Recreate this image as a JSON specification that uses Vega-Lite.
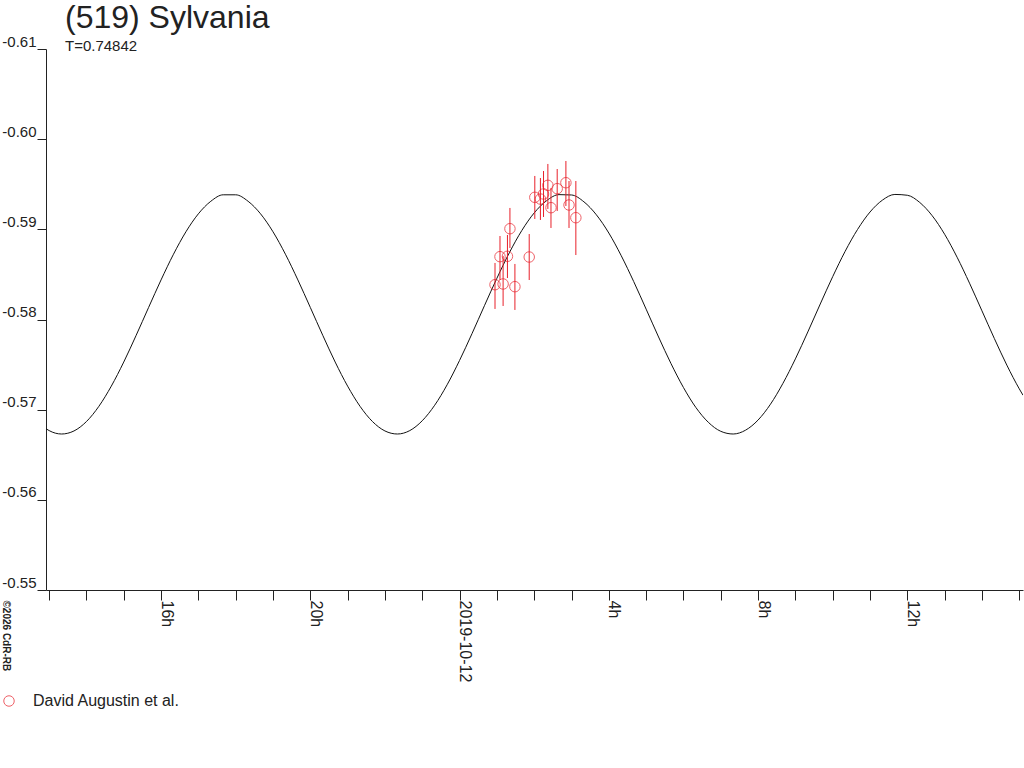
{
  "$schema": "https://vega.github.io/schema/vega-lite/v6.json",
  "width": 977,
  "height": 541,
  "padding": {"top": 2, "left": 0, "right": 0, "bottom": 0},
  "background": "white",
  "title": {
    "text": "(519) Sylvania",
    "subtitle": "T=0.74842",
    "anchor": "start",
    "dx": 65,
    "offset": -21,
    "font": "Liberation Sans",
    "fontSize": 32,
    "fontWeight": "normal",
    "color": "#222",
    "subtitleFont": "Liberation Sans",
    "subtitleFontSize": 15,
    "subtitleColor": "#222",
    "subtitlePadding": 4
  },
  "config": {
    "view": {"stroke": null},
    "axis": {
      "labelFont": "Liberation Sans",
      "labelColor": "#222",
      "domainColor": "#222",
      "tickColor": "#222",
      "grid": false
    }
  },
  "datasets": {
    "curve": [
      {"t": "2019-10-11T12:55:00Z", "m": -0.56789},
      {"t": "2019-10-11T13:00:00Z", "m": -0.56768},
      {"t": "2019-10-11T13:20:00Z", "m": -0.56730},
      {"t": "2019-10-11T13:40:00Z", "m": -0.56764},
      {"t": "2019-10-11T14:00:00Z", "m": -0.56868},
      {"t": "2019-10-11T14:20:00Z", "m": -0.57037},
      {"t": "2019-10-11T14:40:00Z", "m": -0.57261},
      {"t": "2019-10-11T15:00:00Z", "m": -0.57528},
      {"t": "2019-10-11T15:20:00Z", "m": -0.57825},
      {"t": "2019-10-11T15:40:00Z", "m": -0.58134},
      {"t": "2019-10-11T16:00:00Z", "m": -0.58439},
      {"t": "2019-10-11T16:20:00Z", "m": -0.58724},
      {"t": "2019-10-11T16:40:00Z", "m": -0.58973},
      {"t": "2019-10-11T17:00:00Z", "m": -0.59172},
      {"t": "2019-10-11T17:20:00Z", "m": -0.59311},
      {"t": "2019-10-11T17:40:00Z", "m": -0.59383},
      {"t": "2019-10-11T18:00:00Z", "m": -0.59383},
      {"t": "2019-10-11T18:20:00Z", "m": -0.59311},
      {"t": "2019-10-11T18:40:00Z", "m": -0.59172},
      {"t": "2019-10-11T19:00:00Z", "m": -0.58973},
      {"t": "2019-10-11T19:20:00Z", "m": -0.58724},
      {"t": "2019-10-11T19:40:00Z", "m": -0.58439},
      {"t": "2019-10-11T20:00:00Z", "m": -0.58134},
      {"t": "2019-10-11T20:20:00Z", "m": -0.57825},
      {"t": "2019-10-11T20:40:00Z", "m": -0.57528},
      {"t": "2019-10-11T21:00:00Z", "m": -0.57261},
      {"t": "2019-10-11T21:20:00Z", "m": -0.57037},
      {"t": "2019-10-11T21:40:00Z", "m": -0.56868},
      {"t": "2019-10-11T22:00:00Z", "m": -0.56764},
      {"t": "2019-10-11T22:20:00Z", "m": -0.56730},
      {"t": "2019-10-11T22:40:00Z", "m": -0.56768},
      {"t": "2019-10-11T23:00:00Z", "m": -0.56877},
      {"t": "2019-10-11T23:20:00Z", "m": -0.57049},
      {"t": "2019-10-11T23:40:00Z", "m": -0.57276},
      {"t": "2019-10-12T00:00:00Z", "m": -0.57546},
      {"t": "2019-10-12T00:20:00Z", "m": -0.57843},
      {"t": "2019-10-12T00:40:00Z", "m": -0.58153},
      {"t": "2019-10-12T01:00:00Z", "m": -0.58457},
      {"t": "2019-10-12T01:20:00Z", "m": -0.58740},
      {"t": "2019-10-12T01:40:00Z", "m": -0.58986},
      {"t": "2019-10-12T02:00:00Z", "m": -0.59182},
      {"t": "2019-10-12T02:20:00Z", "m": -0.59318},
      {"t": "2019-10-12T02:40:00Z", "m": -0.59385},
      {"t": "2019-10-12T03:00:00Z", "m": -0.59381},
      {"t": "2019-10-12T03:20:00Z", "m": -0.59305},
      {"t": "2019-10-12T03:40:00Z", "m": -0.59161},
      {"t": "2019-10-12T04:00:00Z", "m": -0.58959},
      {"t": "2019-10-12T04:20:00Z", "m": -0.58707},
      {"t": "2019-10-12T04:40:00Z", "m": -0.58421},
      {"t": "2019-10-12T05:00:00Z", "m": -0.58115},
      {"t": "2019-10-12T05:20:00Z", "m": -0.57806},
      {"t": "2019-10-12T05:40:00Z", "m": -0.57511},
      {"t": "2019-10-12T06:00:00Z", "m": -0.57246},
      {"t": "2019-10-12T06:20:00Z", "m": -0.57024},
      {"t": "2019-10-12T06:40:00Z", "m": -0.56860},
      {"t": "2019-10-12T07:00:00Z", "m": -0.56760},
      {"t": "2019-10-12T07:20:00Z", "m": -0.56730},
      {"t": "2019-10-12T07:40:00Z", "m": -0.56773},
      {"t": "2019-10-12T08:00:00Z", "m": -0.56885},
      {"t": "2019-10-12T08:20:00Z", "m": -0.57061},
      {"t": "2019-10-12T08:40:00Z", "m": -0.57292},
      {"t": "2019-10-12T09:00:00Z", "m": -0.57563},
      {"t": "2019-10-12T09:20:00Z", "m": -0.57862},
      {"t": "2019-10-12T09:40:00Z", "m": -0.58172},
      {"t": "2019-10-12T10:00:00Z", "m": -0.58475},
      {"t": "2019-10-12T10:20:00Z", "m": -0.58756},
      {"t": "2019-10-12T10:40:00Z", "m": -0.58999},
      {"t": "2019-10-12T11:00:00Z", "m": -0.59192},
      {"t": "2019-10-12T11:20:00Z", "m": -0.59324},
      {"t": "2019-10-12T11:40:00Z", "m": -0.59387},
      {"t": "2019-10-12T12:00:00Z", "m": -0.59378},
      {"t": "2019-10-12T12:20:00Z", "m": -0.59298},
      {"t": "2019-10-12T12:40:00Z", "m": -0.59151},
      {"t": "2019-10-12T13:00:00Z", "m": -0.58945},
      {"t": "2019-10-12T13:20:00Z", "m": -0.58691},
      {"t": "2019-10-12T13:40:00Z", "m": -0.58403},
      {"t": "2019-10-12T14:00:00Z", "m": -0.58096},
      {"t": "2019-10-12T14:20:00Z", "m": -0.57788},
      {"t": "2019-10-12T14:40:00Z", "m": -0.57494},
      {"t": "2019-10-12T15:00:00Z", "m": -0.57231},
      {"t": "2019-10-12T15:06:00Z", "m": -0.57160}
    ],
    "obs": [
      {"t": "2019-10-12T00:57:00Z", "m": -0.58386, "lo": -0.58627, "hi": -0.58117, "src": "David Augustin et al."},
      {"t": "2019-10-12T01:05:00Z", "m": -0.58697, "lo": -0.58926, "hi": -0.58438, "src": "David Augustin et al."},
      {"t": "2019-10-12T01:10:00Z", "m": -0.58394, "lo": -0.58704, "hi": -0.58150, "src": "David Augustin et al."},
      {"t": "2019-10-12T01:17:00Z", "m": -0.58701, "lo": -0.58937, "hi": -0.58460, "src": "David Augustin et al."},
      {"t": "2019-10-12T01:21:00Z", "m": -0.59007, "lo": -0.59237, "hi": -0.58793, "src": "David Augustin et al."},
      {"t": "2019-10-12T01:29:00Z", "m": -0.58364, "lo": -0.58616, "hi": -0.58106, "src": "David Augustin et al."},
      {"t": "2019-10-12T01:52:00Z", "m": -0.58693, "lo": -0.58948, "hi": -0.58438, "src": "David Augustin et al."},
      {"t": "2019-10-12T02:01:00Z", "m": -0.59355, "lo": -0.59592, "hi": -0.59115, "src": "David Augustin et al."},
      {"t": "2019-10-12T02:10:00Z", "m": -0.59336, "lo": -0.59569, "hi": -0.59104, "src": "David Augustin et al."},
      {"t": "2019-10-12T02:15:00Z", "m": -0.59392, "lo": -0.59647, "hi": -0.59137, "src": "David Augustin et al."},
      {"t": "2019-10-12T02:22:00Z", "m": -0.59488, "lo": -0.59725, "hi": -0.59226, "src": "David Augustin et al."},
      {"t": "2019-10-12T02:27:00Z", "m": -0.59240, "lo": -0.59459, "hi": -0.59015, "src": "David Augustin et al."},
      {"t": "2019-10-12T02:37:00Z", "m": -0.59451, "lo": -0.59669, "hi": -0.59203, "src": "David Augustin et al."},
      {"t": "2019-10-12T02:51:00Z", "m": -0.59517, "lo": -0.59758, "hi": -0.59259, "src": "David Augustin et al."},
      {"t": "2019-10-12T02:56:00Z", "m": -0.59270, "lo": -0.59536, "hi": -0.59015, "src": "David Augustin et al."},
      {"t": "2019-10-12T03:07:00Z", "m": -0.59129, "lo": -0.59536, "hi": -0.58715, "src": "David Augustin et al."}
    ]
  },
  "layer": [
    {
      "data": {"name": "curve"},
      "mark": {"type": "line", "color": "#111", "strokeWidth": 1, "interpolate": "monotone", "clip": true},
      "encoding": {
        "x": {
          "field": "t",
          "type": "temporal",
          "scale": {
            "type": "utc",
            "domain": ["2019-10-11T12:55:00Z", "2019-10-12T15:06:00Z"]
          },
          "axis": {
            "title": null,
            "tickCount": 26,
            "tickSize": 10,
            "labelExpr": "utchours(datum.value) % 4 != 0 ? '' : (utchours(datum.value) == 0 ? utcFormat(datum.value, '%Y-%m-%d') : utcFormat(datum.value, '%-Hh'))",
            "labelAngle": 90,
            "labelAlign": "left",
            "labelBaseline": "alphabetic",
            "labelFontSize": 16,
            "labelPadding": 0,
            "labelOverlap": false,
            "labelFlush": false
          }
        },
        "y": {
          "field": "m",
          "type": "quantitative",
          "scale": {"domain": [-0.61, -0.55], "reverse": true, "zero": false, "nice": false},
          "axis": {
            "title": "©2026 CdR-RB",
            "titleAngle": 90,
            "titleX": -44,
            "titleY": 551,
            "titleAlign": "left",
            "titleBaseline": "alphabetic",
            "titleFont": "Liberation Sans",
            "titleFontSize": 10,
            "titleFontWeight": "bold",
            "titleColor": "#222",
            "values": [-0.61, -0.6, -0.59, -0.58, -0.57, -0.56, -0.55],
            "labelExpr": "'-' + format(-datum.value, '.2f')",
            "labelFontSize": 15,
            "labelBaseline": "bottom",
            "labelPadding": 1,
            "tickSize": 9,
            "labelFlush": false,
            "labelOverlap": false
          }
        }
      }
    },
    {
      "data": {"name": "obs"},
      "mark": {"type": "rule", "color": "#e8202a", "strokeWidth": 1},
      "encoding": {
        "x": {"field": "t", "type": "temporal"},
        "y": {"field": "lo", "type": "quantitative"},
        "y2": {"field": "hi"}
      }
    },
    {
      "data": {"name": "obs"},
      "mark": {"type": "point", "shape": "circle", "filled": false, "size": 110, "strokeWidth": 1},
      "encoding": {
        "x": {"field": "t", "type": "temporal"},
        "y": {"field": "m", "type": "quantitative"},
        "stroke": {
          "field": "src",
          "type": "nominal",
          "scale": {"range": ["#e8202a"]},
          "legend": {
            "title": null,
            "orient": "none",
            "legendX": -45,
            "legendY": 644,
            "symbolType": "circle",
            "symbolSize": 110,
            "symbolStrokeWidth": 1,
            "labelFont": "Liberation Sans",
            "labelFontSize": 16,
            "labelColor": "#222",
            "labelOffset": 16
          }
        }
      }
    }
  ]
}
